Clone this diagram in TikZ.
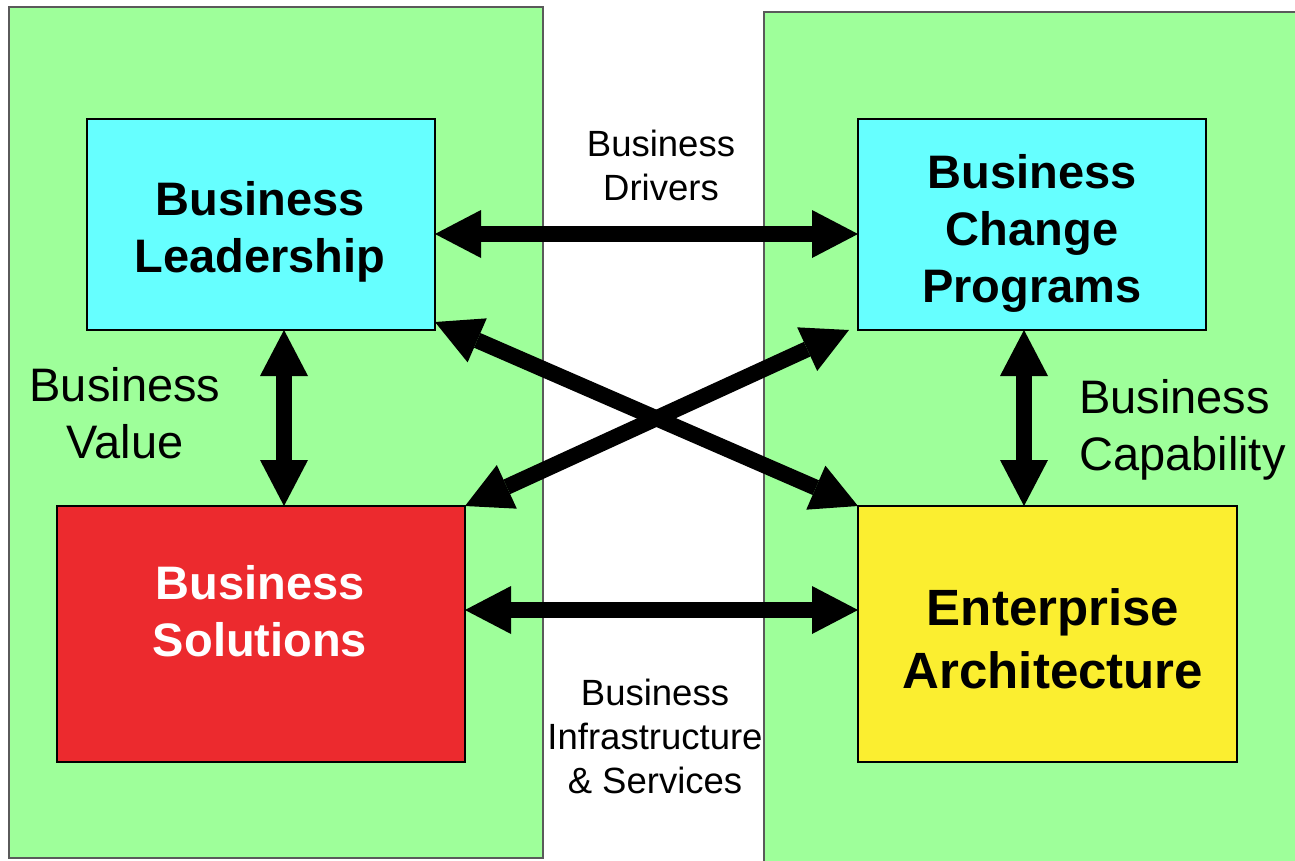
\documentclass[tikz,border=0pt]{standalone}
\usepackage{fontspec}
\setmainfont{Liberation Sans}
\usetikzlibrary{arrows.meta,calc}
\definecolor{panelgreen}{RGB}{158,255,154}
\definecolor{panelborder}{RGB}{90,90,90}
\definecolor{boxcyan}{RGB}{102,255,255}
\definecolor{boxred}{RGB}{236,42,46}
\definecolor{boxyellow}{RGB}{251,238,48}
\tikzset{
  panel/.style={fill=panelgreen,draw=panelborder,line width=1.5pt},
  box/.style={draw=black,line width=2pt,inner sep=0pt,outer sep=0pt,align=center},
  boxtext/.style={align=center,inner sep=0pt,font=\bfseries\fontsize{47}{57}\selectfont},
  sidelabel/.style={align=center,inner sep=0pt,font=\fontsize{47}{57}\selectfont},
  midlabel/.style={align=center,inner sep=0pt,font=\fontsize{36.5}{44}\selectfont},
  dbl/.style={line width=16pt,
    {Triangle[length=46pt,width=48pt,line width=0pt]}-{Triangle[length=46pt,width=48pt,line width=0pt]}}
}
\begin{document}
\begin{tikzpicture}[x=1pt,y=-1pt]
\useasboundingbox (0,0) rectangle (1295,860);
\fill[white] (0,0) rectangle (1295,860);
% panels
\draw[panel] (9,7) rectangle (543,858);
\draw[panel] (764,12) rectangle (1310,875);
% boxes
\node[box,fill=boxcyan,minimum width=348pt,minimum height=211pt] (bl) at (261,224.5) {};
\node[box,fill=boxcyan,minimum width=348pt,minimum height=211pt] (bcp) at (1032,224.5) {};
\node[box,fill=boxred,minimum width=408pt,minimum height=256pt] (bs) at (261,634) {};
\node[box,fill=boxyellow,minimum width=379pt,minimum height=256pt] (ea) at (1047.5,634) {};
% box texts
\node[boxtext] (blt) at (260,232) {Business\\Leadership};
\node[boxtext] (bcpt) at (1032,233) {Business\\Change\\Programs};
\node[boxtext,text=white] (bst) at (260,611) {Business\\Solutions};
\node[boxtext,font=\bfseries\fontsize{51}{63}\selectfont] (eat) at (1053,639) {Enterprise\\Architecture};
% labels
\node[midlabel] (drv) at (661,165) {Business\\Drivers};
\node[midlabel] (inf) at (655,736) {Business\\Infrastructure\\\& Services};
\node[sidelabel] (val) at (125,413) {Business\\Value};
\node[sidelabel,align=left,anchor=west] (cap) at (1079,430) {Business\\Capability};
% arrows
\draw[dbl] (bl.east |- 0,234) -- (bcp.west |- 0,234);
\draw[dbl] (bs.east |- 0,610) -- (ea.west |- 0,610);
\draw[dbl] (bl.south -| 284,0) -- (bs.north -| 284,0);
\draw[dbl] (bcp.south -| 1024,0) -- (ea.north -| 1024,0);
\draw[dbl] ([yshift=8pt]bl.south east) -- (ea.north west);
\draw[dbl] ([xshift=-9pt]bcp.south west) -- (bs.north east);
\end{tikzpicture}
\end{document}
